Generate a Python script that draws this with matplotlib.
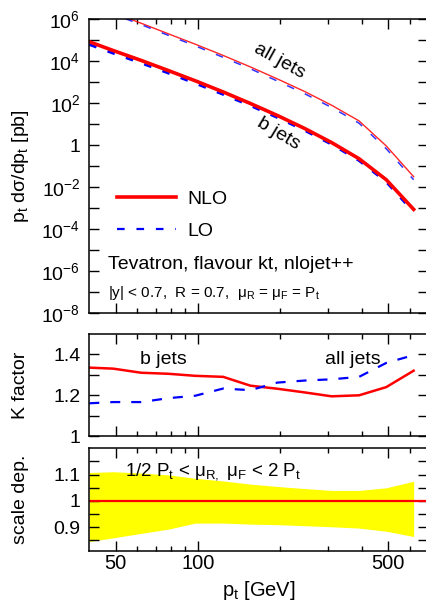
import math
import matplotlib
matplotlib.use("Agg")
import matplotlib.pyplot as plt
from matplotlib.ticker import FixedLocator, FuncFormatter, NullLocator
from matplotlib.lines import Line2D

plt.rcParams['font.family'] = ['Liberation Sans', 'DejaVu Sans']
plt.rcParams['mathtext.fontset'] = 'custom'
plt.rcParams['mathtext.rm'] = 'Liberation Sans'
plt.rcParams['mathtext.it'] = 'Liberation Sans'
plt.rcParams['mathtext.sf'] = 'Liberation Sans'
plt.rcParams['lines.scale_dashes'] = False

# jet transverse momentum bins [GeV]
pt = [40, 49, 62, 78, 98, 124, 156, 196, 247, 310, 391, 492, 620]

# NLO cross sections pt dsigma/dpt [pb]
nlo_bjets = [8.5e4, 3.24e4, 1.10e4, 3.63e3, 1.175e3, 347, 98, 26.3, 6.3, 1.35, 0.229, 0.0229, 8.9e-4]
nlo_alljets = [6.0e6, 2.04e6, 6.5e5, 2.04e5, 6.5e4, 1.9e4, 5.4e3, 1.45e3, 363, 81, 14.5, 0.93, 0.032]

# K factors NLO/LO
k_bjets = [1.335, 1.330, 1.310, 1.305, 1.295, 1.290, 1.247, 1.232, 1.214, 1.195, 1.200, 1.240, 1.320]
k_alljets = [1.161, 1.167, 1.167, 1.186, 1.198, 1.233, 1.225, 1.262, 1.272, 1.278, 1.290, 1.358, 1.396]

# scale variation envelope, relative to central scale
scale_up = [1.108, 1.111, 1.106, 1.099, 1.086, 1.076, 1.064, 1.055, 1.047, 1.040, 1.040, 1.050, 1.075]
scale_down = [0.846, 0.860, 0.877, 0.893, 0.916, 0.916, 0.912, 0.910, 0.906, 0.902, 0.897, 0.885, 0.865]

lo_bjets = [n / k for n, k in zip(nlo_bjets, k_bjets)]
lo_alljets = [n / k for n, k in zip(nlo_alljets, k_alljets)]

RED = '#ff0000'
BLUE = '#0000ff'
W, H = 427, 607

fig = plt.figure(figsize=(W / 100, H / 100), dpi=100)

left = 89.3 / W
width = (428.0 - 89.3) / W


def panel(top_px, bottom_px):
    return fig.add_axes([left, (H - bottom_px) / H, width, (bottom_px - top_px) / H])


ax1 = panel(19.3, 313.3)
ax2 = panel(333.8, 436.3)
ax3 = panel(448.3, 551.0)

for ax in (ax1, ax2, ax3):
    ax.set_xscale('log')
    ax.set_xlim(40, 700)
    ax.xaxis.set_major_locator(FixedLocator([50, 100, 500]))
    ax.xaxis.set_minor_locator(FixedLocator([60, 70, 80, 90, 200, 300, 400, 600]))
    ax.xaxis.set_major_formatter(FuncFormatter(lambda v, p: '%d' % v))
    ax.tick_params(which='both', direction='in', top=True, right=True, width=1.0)
    ax.tick_params(which='major', length=7.2)
    ax.tick_params(which='minor', length=3.6)
    ax.tick_params(axis='y', labelsize=14, pad=6.5)
    for s in ax.spines.values():
        s.set_linewidth(1.1)

ax1.tick_params(axis='x', labelbottom=False)
ax2.tick_params(axis='x', labelbottom=False)
ax3.tick_params(axis='x', labelsize=14.5, pad=2)

# --- cross sections ---
ax1.set_yscale('log')
ax1.set_ylim(1e-8, 1e6)
ax1.yaxis.set_major_locator(FixedLocator([10.0 ** k for k in range(-8, 7)]))
ax1.yaxis.set_minor_locator(NullLocator())


def decade_label(v, p):
    k = int(round(math.log10(v)))
    if k % 2:
        return ''
    if k == 0:
        return '1'
    return '10$^{\\mathregular{%d}}$' % k


ax1.yaxis.set_major_formatter(FuncFormatter(decade_label))

ax1.plot(pt, nlo_alljets, color=RED, lw=1.0, alpha=0.85)
ax1.plot(pt, lo_alljets, color=BLUE, lw=1.1, dashes=(5.5, 8.5), alpha=0.8)
ax1.plot(pt, lo_bjets, color=BLUE, lw=2.2, dashes=(5.5, 8.5))
ax1.plot(pt, nlo_bjets, color=RED, lw=2.6)

ax1.text(200, 1.0e4, 'all jets', rotation=-29, fontsize=14, ha='center', va='center')
ax1.text(197, 3.7, 'b jets', rotation=-31, fontsize=14, ha='center', va='center')

handles = [Line2D([], [], color=RED, lw=2.6),
           Line2D([], [], color=BLUE, lw=1.6, dashes=(5.5, 8.5))]
ax1.legend(handles, ['NLO', 'LO'], loc='upper left', bbox_to_anchor=(0.06, 0.445),
           frameon=False, fontsize=14, handlelength=3.0, handletextpad=0.6,
           labelspacing=0.75, borderaxespad=0)

ax1.text(0.055, 0.165, 'Tevatron, flavour kt, nlojet++', transform=ax1.transAxes,
         fontsize=14, ha='left', va='center')
ax1.text(0.055, 0.07,
         '|y| < 0.7,  R = 0.7,  μ$_\\mathregular{R}$ = μ$_\\mathregular{F}$ = P$_\\mathregular{t}$',
         transform=ax1.transAxes, fontsize=11, ha='left', va='center')

# --- K factors ---
ax2.set_ylim(1.0, 1.5)
ax2.yaxis.set_major_locator(FixedLocator([1.0, 1.1, 1.2, 1.3, 1.4]))
ax2.yaxis.set_minor_locator(NullLocator())
ax2.yaxis.set_major_formatter(FuncFormatter(
    lambda v, p: {1.0: '1', 1.2: '1.2', 1.4: '1.4'}.get(round(v, 2), '')))
ax2.plot(pt, k_bjets, color=RED, lw=1.8)
ax2.plot(pt, k_alljets, color=BLUE, lw=1.6, dashes=(7.2, 7.9))
ax2.text(75, 1.375, 'b jets', fontsize=14, ha='center', va='center')
ax2.text(371, 1.375, 'all jets', fontsize=14, ha='center', va='center')

# --- scale dependence ---
ax3.set_ylim(0.81, 1.2)
ax3.yaxis.set_major_locator(FixedLocator([0.85, 0.9, 0.95, 1.0, 1.05, 1.1, 1.15]))
ax3.yaxis.set_minor_locator(NullLocator())
ax3.yaxis.set_major_formatter(FuncFormatter(
    lambda v, p: {0.9: '0.9', 1.0: '1', 1.1: '1.1'}.get(round(v, 2), '')))
ax3.fill_between(pt, scale_down, scale_up, color='#ffff00', lw=0)
ax3.axhline(1.0, color=RED, lw=1.6)
ax3.text(54, 1.11,
         '1/2 P$_\\mathregular{t}$ < μ$_\\mathregular{R,}$ μ$_\\mathregular{F}$ < 2 P$_\\mathregular{t}$',
         fontsize=13.5, ha='left', va='center')

# axis titles
fig.text(21 / W, 1 - 166 / H, 'p$_\\mathregular{t}$ dσ/dp$_\\mathregular{t}$ [pb]',
         rotation=90, ha='center', va='center', fontsize=14)
fig.text(21 / W, 1 - 385 / H, 'K factor', rotation=90, ha='center', va='center', fontsize=14)
fig.text(21 / W, 1 - 499 / H, 'scale dep.', rotation=90, ha='center', va='center', fontsize=14)
fig.text(259 / W, 1 - 590 / H, 'p$_\\mathregular{t}$ [GeV]', ha='center', va='center', fontsize=14.5)

fig.savefig('out.png', dpi=100)
